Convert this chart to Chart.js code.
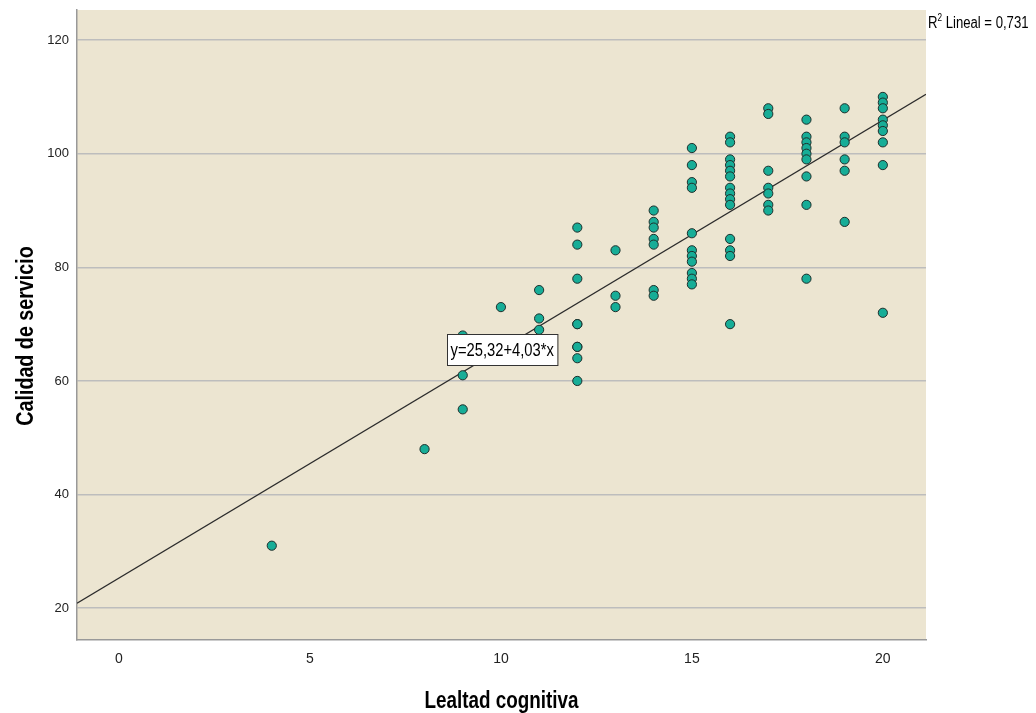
<!DOCTYPE html>
<html>
<head>
<meta charset="utf-8">
<script src="https://cdn.jsdelivr.net/npm/chart.js@4.4.1/dist/chart.umd.min.js"></script>
<style>
    html, body { margin: 0; padding: 0; background: #ffffff; }
    #wrap { width: 1036px; height: 713px; }
</style>
</head>
<body>
<div id="wrap"><canvas id="scatterChart" width="1036" height="713"></canvas></div>
<script>
// Lealtad cognitiva (x) / Calidad de servicio (y)
const lealtad = [
    4,
    8,
    9, 9, 9,
    10,
    11, 11, 11,
    12, 12, 12, 12, 12, 12, 12, 12, 12,
    13, 13, 13,
    14, 14, 14, 14, 14, 14, 14,
    15, 15, 15, 15, 15, 15, 15, 15, 15, 15, 15,
    16, 16, 16, 16, 16, 16, 16, 16, 16, 16, 16, 16, 16, 16,
    17, 17, 17, 17, 17, 17, 17,
    18, 18, 18, 18, 18, 18, 18, 18, 18,
    19, 19, 19, 19, 19, 19,
    20, 20, 20, 20, 20, 20, 20, 20, 20
];
const calidad = [
    31,
    48,
    68, 61, 55,
    73,
    76, 71, 69,
    87, 84, 78, 70, 70, 66, 66, 64, 60,
    83, 75, 73,
    90, 88, 87, 85, 84, 76, 75,
    101, 98, 95, 94, 86, 83, 82, 81, 79, 78, 77,
    103, 102, 99, 98, 97, 96, 94, 93, 92, 91, 85, 83, 82, 70,
    108, 107, 97, 94, 93, 91, 90,
    106, 103, 102, 101, 100, 99, 96, 91, 78,
    108, 103, 102, 99, 97, 88,
    110, 109, 108, 106, 105, 104, 102, 98, 72
];

const xTicks = [0, 5, 10, 15, 20];
const yTicks = [20, 40, 60, 80, 100, 120];

// fit shown on the chart
const intercept = 25.32;
const slope = 4.03;
const fitLabel = 'y=25,32+4,03*x';
const r2Label = ' Lineal = 0,731';

const xTitle = 'Lealtad cognitiva';
const yTitle = 'Calidad de servicio';

const xMin = -1.1, xMax = 21.13;
const yMin = 14.4, yMax = 125.3;

const font = "'Liberation Sans', Arial, sans-serif";
const squeeze = 0.82; // the original uses a narrow face

const points = lealtad.map((x, i) => ({ x: x, y: calidad[i] }));
const fitLine = [xMin, xMax].map(x => ({ x: x, y: intercept + slope * x }));

function narrowText(ctx, text, x, y, align) {
    ctx.save();
    ctx.translate(x, y);
    ctx.scale(squeeze, 1);
    ctx.textAlign = align;
    ctx.fillText(text, 0, 0);
    ctx.restore();
}

const plotBackground = {
    id: 'plotBackground',
    beforeDraw(chart) {
        const a = chart.chartArea;
        const ctx = chart.ctx;
        ctx.save();
        ctx.fillStyle = '#ECE5D1';
        ctx.fillRect(a.left, a.top, a.right - a.left, a.bottom - a.top);
        ctx.restore();
    }
};

const annotations = {
    id: 'annotations',
    afterDraw(chart) {
        const ctx = chart.ctx;
        const a = chart.chartArea;
        const xs = chart.scales.x;
        const ys = chart.scales.y;
        ctx.save();
        ctx.fillStyle = '#000000';
        ctx.textBaseline = 'alphabetic';

        // axis titles
        ctx.font = 'bold 23px ' + font;
        narrowText(ctx, xTitle, (a.left + a.right) / 2, 708, 'center');

        ctx.save();
        ctx.translate(33, 336);
        ctx.rotate(-Math.PI / 2);
        ctx.font = 'bold 24px ' + font;
        narrowText(ctx, yTitle, 0, 0, 'center');
        ctx.restore();

        // equation box
        ctx.font = '18px ' + font;
        const tw = ctx.measureText(fitLabel).width * squeeze;
        const bx = Math.round(xs.getPixelForValue(8.6));
        const by = Math.round(ys.getPixelForValue(68.3));
        const bw = tw + 7, bh = 31;
        ctx.fillStyle = '#ffffff';
        ctx.fillRect(bx, by, bw, bh);
        ctx.strokeStyle = '#333333';
        ctx.lineWidth = 1;
        ctx.strokeRect(bx + 0.5, by + 0.5, bw, bh);
        ctx.fillStyle = '#000000';
        narrowText(ctx, fitLabel, bx + 3.5, by + 22, 'left');

        // R2 label
        const rx = a.right + 2;
        const ry = 28;
        ctx.font = '16px ' + font;
        narrowText(ctx, 'R', rx, ry, 'left');
        const rw = ctx.measureText('R').width * squeeze;
        ctx.font = '10px ' + font;
        narrowText(ctx, '2', rx + rw, ry - 7, 'left');
        const sw = ctx.measureText('2').width * squeeze;
        ctx.font = '16px ' + font;
        narrowText(ctx, r2Label, rx + rw + sw, ry, 'left');

        ctx.restore();
    }
};

const ctx = document.getElementById('scatterChart').getContext('2d');
new Chart(ctx, {
    type: 'scatter',
    data: {
        datasets: [{
            type: 'line',
            data: fitLine,
            borderColor: '#2b2b2b',
            borderWidth: 1.3,
            pointRadius: 0,
            fill: false,
            order: 2
        }, {
            data: points,
            backgroundColor: '#17AD97',
            borderColor: '#1f2f2c',
            borderWidth: 1,
            pointRadius: 4.6,
            pointHoverRadius: 4.6,
            order: 1
        }]
    },
    options: {
        responsive: false,
        animation: false,
        layout: {
            padding: { left: 0, top: 10, right: 110, bottom: 0 }
        },
        plugins: {
            legend: { display: false },
            tooltip: { enabled: false }
        },
        scales: {
            x: {
                type: 'linear',
                min: xMin,
                max: xMax,
                afterBuildTicks: function (scale) {
                    scale.ticks = xTicks.map(v => ({ value: v }));
                },
                afterFit: function (scale) {
                    scale.height = 73;
                    scale.paddingLeft = 0;
                    scale.paddingRight = 0;
                },
                grid: {
                    display: false,
                    drawTicks: false
                },
                border: { display: true, color: '#999999', width: 1.5 },
                ticks: {
                    padding: 11,
                    color: '#222222',
                    font: { family: font, size: 14 },
                    maxRotation: 0
                }
            },
            y: {
                type: 'linear',
                min: yMin,
                max: yMax,
                afterBuildTicks: function (scale) {
                    scale.ticks = yTicks.map(v => ({ value: v }));
                },
                afterFit: function (scale) {
                    scale.width = 77;
                    scale.paddingTop = 0;
                    scale.paddingBottom = 0;
                },
                grid: {
                    color: '#bdbdbd',
                    lineWidth: 1.5,
                    drawTicks: false
                },
                border: { display: true, color: '#999999', width: 1.5 },
                ticks: {
                    padding: 8,
                    color: '#222222',
                    font: { family: font, size: 13 }
                }
            }
        }
    },
    plugins: [plotBackground, annotations]
});
</script>
</body>
</html>
